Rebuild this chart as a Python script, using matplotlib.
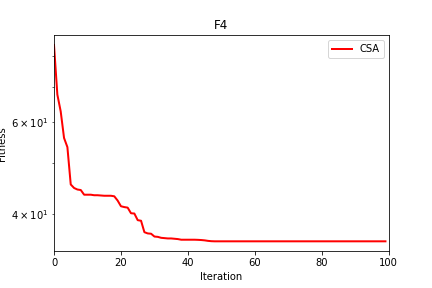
import matplotlib
matplotlib.use("Agg")
import matplotlib.pyplot as plt

# Convergence curve of CSA on F4
iterations = list(range(100))
fitness = (
    [84.0, 67.6, 62.8, 55.9, 53.7, 45.6, 44.9, 44.6, 44.5, 43.6,
     43.6, 43.6, 43.5, 43.5, 43.45, 43.4, 43.4, 43.4, 43.3, 42.5,
     41.45, 41.3, 41.2, 40.2, 40.15, 39.0, 38.9, 37.0, 36.8, 36.75,
     36.3, 36.25, 36.1, 36.05, 36.0, 36.0, 35.95, 35.9, 35.8, 35.8,
     35.8, 35.8, 35.8, 35.78, 35.75, 35.7, 35.62, 35.57]
    + [35.55] * 52
)

fig, ax = plt.subplots(figsize=(6, 4), dpi=72)
fig.subplots_adjust(left=0.125, right=0.9, bottom=0.128, top=0.878)

ax.semilogy(iterations, fitness, color="red", linewidth=2, label="CSA")
ax.set_xlim(0, 100)
ax.set_title("F4")
ax.set_xlabel("Iteration")
ax.set_ylabel("Fitness")
ax.legend(loc="upper right")

fig.savefig("out.png", dpi=72)
